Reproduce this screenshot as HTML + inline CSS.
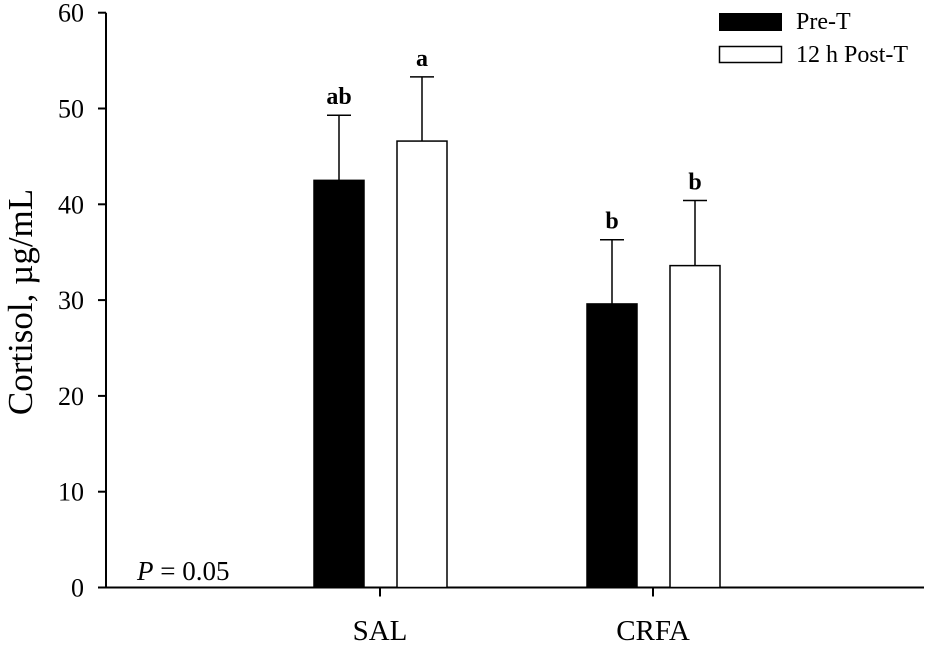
<!DOCTYPE html>
<html><head><meta charset="utf-8"><style>
html,body{margin:0;padding:0;background:#fff}
svg text{font-family:"Liberation Serif",serif;fill:#000}
</style></head><body>
<svg id="chart" width="926" height="643" viewBox="0 0 926 643" xmlns="http://www.w3.org/2000/svg">
<g id="axes"></g><g id="bars"></g>
<g>
<rect x="719" y="13" width="63" height="18" fill="#000"/>
<text x="796" y="29" font-size="24">Pre-T</text>
<rect x="719.5" y="46.5" width="62" height="16" fill="#fff" stroke="#000" stroke-width="1.5"/>
<text x="796" y="62" font-size="24">12 h Post-T</text>
</g>
<text x="137" y="580" font-size="27"><tspan font-style="italic">P</tspan> = 0.05</text>
<text transform="translate(32,302) rotate(-90)" text-anchor="middle" font-size="35">Cortisol, µg/mL</text>
</svg>
<script>
const categories = ["SAL", "CRFA"];
const preValues = [42.5, 29.6];
const preErrors = [6.8, 6.7];
const postValues = [46.6, 33.6];
const postErrors = [6.7, 6.8];
const preLetters = ["ab", "b"];
const postLetters = ["a", "b"];
const yTicks = [0, 10, 20, 30, 40, 50, 60];

const NS = "http://www.w3.org/2000/svg";
const x0 = 106, x1 = 924, y0 = 587.5, yTop = 12.7, yMax = 60;
const catCenters = [380, 653];
function yScale(v){ return y0 - (v / yMax) * (y0 - yTop); }
function xCat(i){ return catCenters[0] + i * (catCenters[1] - catCenters[0]); }
function mk(tag, attrs, parent){ const e = document.createElementNS(NS, tag); for (const k in attrs) e.setAttribute(k, attrs[k]); parent.appendChild(e); return e; }
const axes = document.getElementById("axes");
const bars = document.getElementById("bars");

let yl = mk("line", {x1:x0, y1:yTop, x2:x0, y2:y0, stroke:"#000", "stroke-width":2}, axes);


let xl = mk("line", {x1:x0, y1:y0, x2:x1, y2:y0, stroke:"#000", "stroke-width":2}, axes);


yTicks.forEach(t => {
  const y = yScale(t);
  const tk = mk("line", {x1:x0-8, y1:y, x2:x0, y2:y, stroke:"#000", "stroke-width":2}, axes);
  
  
  const tl = mk("text", {x:84, y:y+9, "text-anchor":"end", "font-size":26}, axes);
  tl.textContent = t;
  
  
});
categories.forEach((c, i) => {
  const cx = xCat(i);
  const tk = mk("line", {x1:cx, y1:y0, x2:cx, y2:y0+9, stroke:"#000", "stroke-width":2}, axes);
  
  
  const tl = mk("text", {x:cx, y:640, "text-anchor":"middle", "font-size":29}, axes);
  tl.textContent = c;
  
  

  const series = [
    {v:preValues[i], e:preErrors[i], l:preLetters[i], left:cx-66, fill:"#000", name:"pre"},
    {v:postValues[i], e:postErrors[i], l:postLetters[i], left:cx+17, fill:"#fff", name:"post"}
  ];
  series.forEach(s => {
    const w = 50, mid = s.left + w/2;
    const yt = yScale(s.v), ye = yScale(s.v + s.e);
    const el = mk("line", {x1:mid, y1:ye, x2:mid, y2:yt, stroke:"#000", "stroke-width":1.5}, bars);
    
    
    const cap = mk("line", {x1:mid-12, y1:ye, x2:mid+12, y2:ye, stroke:"#000", "stroke-width":1.5}, bars);
    
    
    const r = mk("rect", {x:s.left, y:yt, width:w, height:y0-yt, fill:s.fill, stroke:"#000", "stroke-width":1.5}, bars);
    
    
    const lt = mk("text", {x:mid, y:ye-11, "text-anchor":"middle", "font-size":24, "font-weight":"bold"}, bars);
    lt.textContent = s.l;
    
    
  });
});
</script>
</body></html>
